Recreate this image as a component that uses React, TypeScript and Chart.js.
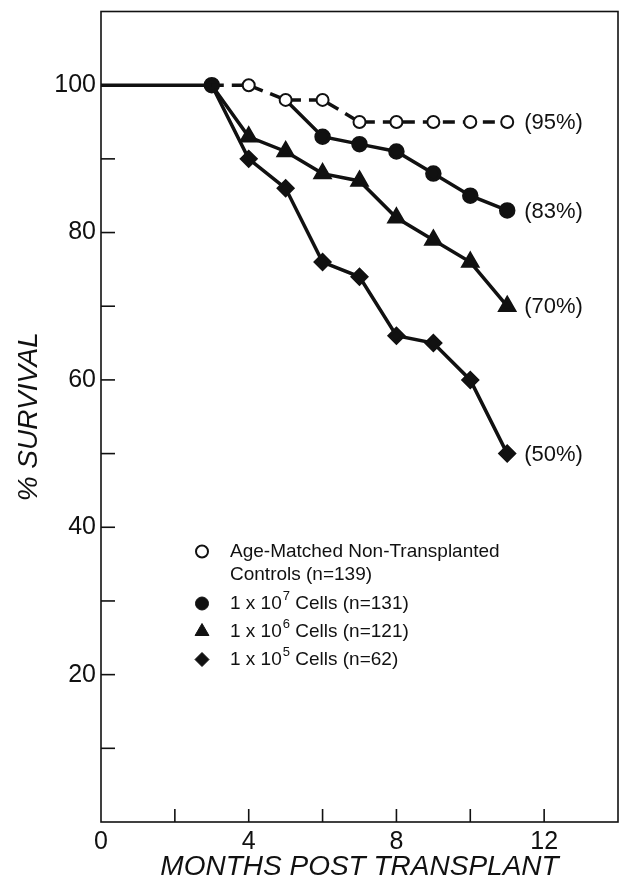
import React, { useEffect, useRef } from 'react';
import { Chart, registerables } from 'chart.js';
import { drawPoint } from 'chart.js/helpers';

Chart.register(...registerables);

// ---- data ----
const controlMonths = [0, 3, 4, 5, 6, 7, 8, 9, 10, 11];
const controlSurvival = [100, 100, 100, 98, 98, 95, 95, 95, 95, 95];
const cells7Months = [3, 5, 6, 7, 8, 9, 10, 11];
const cells7Survival = [100, 98, 93, 92, 91, 88, 85, 83];
const cells6Months = [3, 4, 5, 6, 7, 8, 9, 10, 11];
const cells6Survival = [100, 93, 91, 88, 87, 82, 79, 76, 70];
const cells5Months = [3, 4, 5, 6, 7, 8, 9, 10, 11];
const cells5Survival = [100, 90, 86, 76, 74, 66, 65, 60, 50];
const endLabels = ['(95%)', '(83%)', '(70%)', '(50%)'];
const xTickLabels = [0, 4, 8, 12];
const yTickLabels = [20, 40, 60, 80, 100];
const xTitle = 'MONTHS POST TRANSPLANT';
const yTitle = '% SURVIVAL';
const legendControlLines = ['Age-Matched Non-Transplanted', 'Controls (n=139)'];
const legendCellPre = ['1 x 10', '1 x 10', '1 x 10'];
const legendCellSup = ['7', '6', '5'];
const legendCellPost = [' Cells (n=131)', ' Cells (n=121)', ' Cells (n=62)'];

const INK = '#111111';
const FONT = "'Liberation Sans', Arial, sans-serif";

const pts = (xs: number[], ys: number[]) => xs.map((x, i) => ({ x, y: ys[i] }));

const markerStyles = [
  { pointStyle: 'circle', radius: 6, borderWidth: 2, fill: '#ffffff' },
  { pointStyle: 'circle', radius: 6.5, borderWidth: 1, fill: INK },
  { pointStyle: 'triangle', radius: 8, borderWidth: 1, fill: INK },
  { pointStyle: 'rectRot', radius: 7, borderWidth: 1, fill: INK },
];

const zeroPad = (s: any) => {
  s.paddingLeft = 0;
  s.paddingRight = 0;
  s.paddingTop = 0;
  s.paddingBottom = 0;
};

// keep the plot frame close to the right edge of the canvas
const RIGHT_GAP = 2;
const fixRightPlugin = {
  id: 'fixRight',
  afterLayout(chart: any) {
    const a = chart.chartArea;
    const target = chart.width - RIGHT_GAP;
    a.right = target;
    a.width = target - a.left;
    const x = chart.scales.x;
    x.right = target;
    x.width = target - x.left;
    x.configure();
  },
};

const framePlugin = {
  id: 'frameTicks',
  beforeDatasetsDraw(chart: any) {
    const { ctx, chartArea: a, scales } = chart;
    const x = scales.x;
    const y = scales.y;
    ctx.save();
    ctx.strokeStyle = INK;
    ctx.lineWidth = 1.6;
    ctx.strokeRect(a.left, a.top, a.right - a.left, a.bottom - a.top);
    y.ticks.forEach((t: any) => {
      if (t.value > 0 && t.value <= 100) {
        const py = y.getPixelForValue(t.value);
        ctx.beginPath();
        ctx.moveTo(a.left, py);
        ctx.lineTo(a.left + 14, py);
        ctx.stroke();
      }
    });
    x.ticks.forEach((t: any) => {
      if (t.value > 0 && t.value < 14) {
        const px = x.getPixelForValue(t.value);
        ctx.beginPath();
        ctx.moveTo(px, a.bottom);
        ctx.lineTo(px, a.bottom - 13);
        ctx.stroke();
      }
    });
    ctx.restore();
  },
};

const annotationPlugin = {
  id: 'annotations',
  afterDatasetsDraw(chart: any) {
    const { ctx, chartArea: a } = chart;
    ctx.save();
    ctx.fillStyle = INK;
    ctx.font = `22px ${FONT}`;
    ctx.textAlign = 'left';
    ctx.textBaseline = 'middle';
    chart.data.datasets.forEach((ds: any, i: number) => {
      const meta = chart.getDatasetMeta(i);
      const last = meta.data[meta.data.length - 1];
      ctx.fillText(endLabels[i], last.x + 17, last.y + 1);
    });
    const mx = a.left + 101;
    const tx = a.left + 129;
    const rowsY = [a.top + 540, a.top + 592, a.top + 620, a.top + 648];
    const marker = (k: number, yy: number) => {
      const m = markerStyles[k];
      ctx.save();
      ctx.fillStyle = m.fill;
      ctx.strokeStyle = INK;
      ctx.lineWidth = m.borderWidth;
      drawPoint(ctx, { pointStyle: m.pointStyle, radius: m.radius, borderWidth: m.borderWidth, rotation: 0 } as any, mx, yy);
      ctx.restore();
    };
    ctx.font = `19px ${FONT}`;
    marker(0, rowsY[0]);
    ctx.fillStyle = INK;
    ctx.fillText(legendControlLines[0], tx, rowsY[0]);
    ctx.fillText(legendControlLines[1], tx, rowsY[0] + 23);
    for (let k = 0; k < 3; k++) {
      const yy = rowsY[k + 1];
      marker(k + 1, yy);
      ctx.fillStyle = INK;
      ctx.font = `19px ${FONT}`;
      ctx.fillText(legendCellPre[k], tx, yy);
      let w = ctx.measureText(legendCellPre[k]).width;
      ctx.font = `13px ${FONT}`;
      ctx.fillText(legendCellSup[k], tx + w + 1, yy - 7);
      w += ctx.measureText(legendCellSup[k]).width + 1;
      ctx.font = `19px ${FONT}`;
      ctx.fillText(legendCellPost[k], tx + w, yy);
    }
    ctx.restore();
  },
};

export default function App() {
  const canvasRef = useRef<HTMLCanvasElement | null>(null);

  useEffect(() => {
    document.documentElement.style.overflow = 'hidden';
    document.body.style.margin = '0';
    document.body.style.overflow = 'hidden';
    const canvas = canvasRef.current;
    if (!canvas) return;
    const chart = new Chart(canvas, {
      type: 'line',
      data: {
        datasets: [
          {
            label: 'Age-Matched Non-Transplanted Controls (n=139)',
            data: pts(controlMonths, controlSurvival),
            borderColor: INK,
            borderWidth: 3.5,
            pointRadius: controlMonths.map((m) => (m >= 4 ? 6 : 0)),
            pointStyle: 'circle',
            pointBackgroundColor: '#ffffff',
            pointBorderColor: INK,
            pointBorderWidth: 2,
            segment: {
              borderDash: (c: any) => (c.p0.parsed.x >= 3 ? [12, 8] : undefined),
            },
          } as any,
          {
            label: '1 x 10^7 Cells (n=131)',
            data: pts(cells7Months, cells7Survival),
            borderColor: INK,
            borderWidth: 3.5,
            pointRadius: cells7Months.map((m) => (m === 5 ? 0 : 6.5)),
            pointStyle: 'circle',
            pointBackgroundColor: INK,
            pointBorderColor: INK,
            segment: {
              borderColor: (c: any) => (c.p0DataIndex === 0 ? 'rgba(0,0,0,0)' : undefined),
            },
          } as any,
          {
            label: '1 x 10^6 Cells (n=121)',
            data: pts(cells6Months, cells6Survival),
            borderColor: INK,
            borderWidth: 3.5,
            pointRadius: cells6Months.map((m) => (m === 3 ? 0 : 8)),
            pointStyle: 'triangle',
            pointBackgroundColor: INK,
            pointBorderColor: INK,
          },
          {
            label: '1 x 10^5 Cells (n=62)',
            data: pts(cells5Months, cells5Survival),
            borderColor: INK,
            borderWidth: 3.5,
            pointRadius: cells5Months.map((m) => (m === 3 ? 0 : 7)),
            pointStyle: 'rectRot',
            pointBackgroundColor: INK,
            pointBorderColor: INK,
          },
        ],
      },
      options: {
        animation: false,
        responsive: true,
        maintainAspectRatio: false,
        layout: { padding: { top: 10, right: 2, left: 0, bottom: 0 } },
        elements: { line: { tension: 0 } },
        plugins: {
          legend: { display: false },
          tooltip: { enabled: false },
        },
        scales: {
          x: {
            type: 'linear',
            min: 0,
            max: 14,
            grid: { display: false, drawTicks: false },
            border: { display: false },
            ticks: {
              stepSize: 2,
              padding: 5,
              color: INK,
              font: { family: FONT, size: 25 },
              maxRotation: 0,
              autoSkip: false,
              callback: (v: any) => (xTickLabels.includes(Number(v)) ? String(v) : ''),
            },
            title: {
              display: true,
              text: xTitle,
              color: INK,
              font: { family: FONT, size: 28, style: 'italic' },
              padding: { top: 0, bottom: 2 },
            },
            afterFit: (s: any) => {
              s.height = 64;
              zeroPad(s);
            },
          },
          y: {
            type: 'linear',
            min: 0,
            max: 110,
            grid: { display: false, drawTicks: false },
            border: { display: false },
            ticks: {
              stepSize: 10,
              padding: 5,
              color: INK,
              font: { family: FONT, size: 25 },
              autoSkip: false,
              callback: (v: any) => (yTickLabels.includes(Number(v)) ? String(v) : ''),
            },
            title: {
              display: true,
              text: yTitle,
              color: INK,
              font: { family: FONT, size: 28, style: 'italic' },
              padding: { top: 12, bottom: 0 },
            },
            afterFit: (s: any) => {
              s.width = 101;
              zeroPad(s);
            },
          },
        },
      } as any,
      plugins: [fixRightPlugin, framePlugin, annotationPlugin],
    });
    return () => chart.destroy();
  }, []);

  return (
    <div style={{ position: 'absolute', left: 0, top: 0, width: 620, height: 886, overflow: 'hidden', background: '#ffffff' }}>
      <canvas ref={canvasRef} style={{ display: 'block' }} />
    </div>
  );
}
